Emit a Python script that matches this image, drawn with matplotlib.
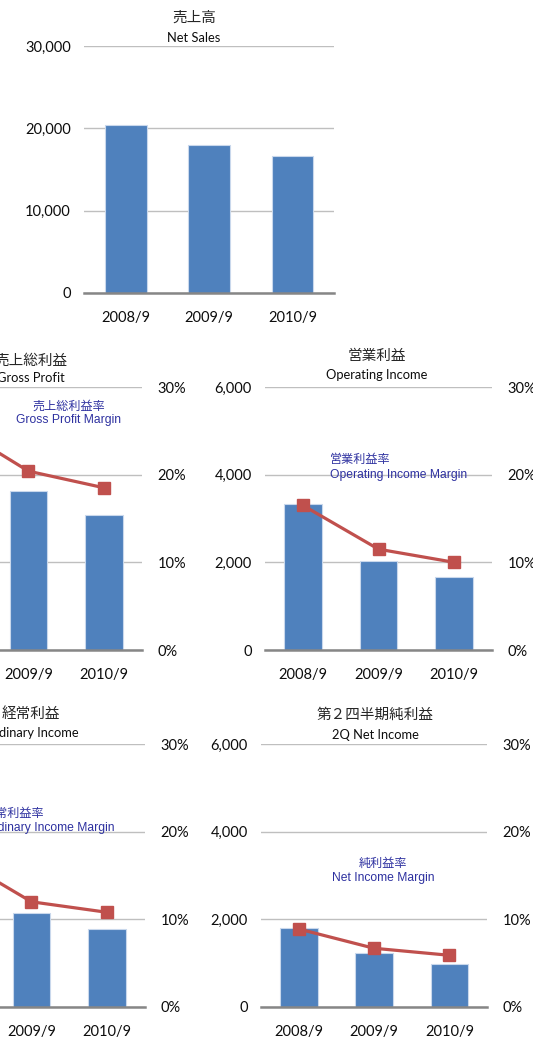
import matplotlib
matplotlib.use("Agg")
import matplotlib.pyplot as plt
from matplotlib.ticker import FuncFormatter

# ---------------- data ----------------
years = ['2008/9', '2009/9', '2010/9']
net_sales = [20400, 17980, 16640]
gross_profit = [5250, 3620, 3080]
gross_margin = [25.7, 20.4, 18.5]
op_income = [3340, 2040, 1670]
op_margin = [16.5, 11.5, 10.0]
ord_income = [3490, 2150, 1790]
ord_margin = [17.1, 12.0, 10.8]
net_income = [1800, 1230, 980]
net_margin = [8.9, 6.7, 5.9]

W, H = 533, 1039
NUM_FONT = ['Lato', 'Noto Sans CJK JP', 'DejaVu Sans']
JP_FONT = ['Noto Sans CJK JP', 'DejaVu Sans']
ANN_FONT = ['Liberation Sans', 'Noto Sans CJK JP', 'DejaVu Sans']
BAR_C = '#4F81BD'
LINE_C = '#C0504D'
GRID_C = '#BFBFBF'
AXIS_C = '#868686'
ANN_C = '#2E31A0'
TXT_C = '#0D0D0D'
TICK_FS = 10.5

fig = plt.figure(figsize=(W / 100, H / 100), dpi=100)


def px_axes(x0, y0, x1, y1):
    return fig.add_axes([x0 / W, 1 - y1 / H, (x1 - x0) / W, (y1 - y0) / H])


def style_axes(ax, ymax, step):
    ax.set_ylim(0, ymax)
    ax.set_xlim(-0.5, 2.5)
    ax.set_yticks(list(range(0, ymax + 1, step)))
    ax.yaxis.set_major_formatter(FuncFormatter(lambda v, p: f'{int(v):,}'))
    ax.grid(axis='y', color=GRID_C, linewidth=1.0)
    ax.set_axisbelow(True)
    for s in ['left', 'right', 'top']:
        ax.spines[s].set_visible(False)
    ax.spines['bottom'].set_color(AXIS_C)
    ax.spines['bottom'].set_linewidth(1.8)
    ax.tick_params(axis='y', length=0, pad=9.5, labelsize=TICK_FS, labelcolor=TXT_C)
    ax.tick_params(axis='x', length=0, pad=13, labelsize=TICK_FS, labelcolor=TXT_C)
    ax.set_xticks(range(len(years)))
    ax.set_xticklabels(years)
    for lab in ax.get_xticklabels() + ax.get_yticklabels():
        lab.set_fontfamily(NUM_FONT)


def bar_chart(ax, values, ymax, step):
    style_axes(ax, ymax, step)
    ax.bar(range(len(years)), values, width=0.5, color=BAR_C,
           edgecolor='#C9D8EC', linewidth=0.8, zorder=2)


def margin_line(ax, margins):
    ax2 = ax.twinx()
    ax2.set_ylim(0, 30)
    ax2.set_yticks([0, 10, 20, 30])
    ax2.yaxis.set_major_formatter(FuncFormatter(lambda v, p: f'{int(v)}%'))
    for s in ['left', 'right', 'top', 'bottom']:
        ax2.spines[s].set_visible(False)
    ax2.tick_params(axis='y', length=0, pad=11, labelsize=TICK_FS, labelcolor=TXT_C)
    for lab in ax2.get_yticklabels():
        lab.set_fontfamily(NUM_FONT)
    ax2.plot(range(len(years)), margins, color=LINE_C, linewidth=2.3,
             marker='s', markersize=8.5, markerfacecolor=LINE_C,
             markeredgecolor=LINE_C, zorder=5, clip_on=False)
    return ax2


def titles(xc, y_jp, y_en, jp, en):
    fig.text(xc / W, 1 - y_jp / H, jp, ha='center', va='center',
             fontsize=10.5, family=JP_FONT, color='#262626')
    fig.text(xc / W, 1 - y_en / H, en, ha='center', va='center',
             fontsize=9.3, family=NUM_FONT, color='#0D0D0D')


def annotation(x, y1, y2, jp, en, ha):
    fig.text(x / W, 1 - y1 / H, jp, ha=ha, va='center', fontsize=8.7,
             family=JP_FONT, color=ANN_C)
    fig.text(x / W, 1 - y2 / H, en, ha=ha, va='center', fontsize=8.7,
             family=ANN_FONT, color=ANN_C)


# ---- Net Sales (top) ----
ax = px_axes(84, 46, 334, 293)
bar_chart(ax, net_sales, 30000, 10000)
titles(194, 18, 38, '売上高', 'Net Sales')

# ---- Gross Profit (middle left, cut off) ----
ax = px_axes(-85, 387, 142, 650)
bar_chart(ax, gross_profit, 6000, 2000)
margin_line(ax, gross_margin)
titles(31, 361, 378, '売上総利益', 'Gross Profit')
annotation(69, 406, 420, '売上総利益率', 'Gross Profit Margin', 'center')

# ---- Operating Income (middle right) ----
ax = px_axes(265, 387, 492, 650)
bar_chart(ax, op_income, 6000, 2000)
margin_line(ax, op_margin)
titles(377, 356, 375, '営業利益', 'Operating Income')
annotation(330, 459, 475, '営業利益率', 'Operating Income Margin', 'left')

# ---- Ordinary Income (bottom left, cut off) ----
ax = px_axes(-82, 744, 145, 1007)
bar_chart(ax, ord_income, 6000, 2000)
margin_line(ax, ord_margin)
titles(31, 714, 733, '経常利益', 'Ordinary Income')
annotation(-16, 813, 828, '経常利益率', 'Ordinary Income Margin', 'left')

# ---- 2Q Net Income (bottom right) ----
ax = px_axes(261, 744, 487, 1007)
bar_chart(ax, net_income, 6000, 2000)
margin_line(ax, net_margin)
titles(375, 715, 735, '第２四半期純利益', '2Q Net Income')
annotation(383, 863, 878, '純利益率', 'Net Income Margin', 'center')

fig.savefig('out.png', dpi=100)
